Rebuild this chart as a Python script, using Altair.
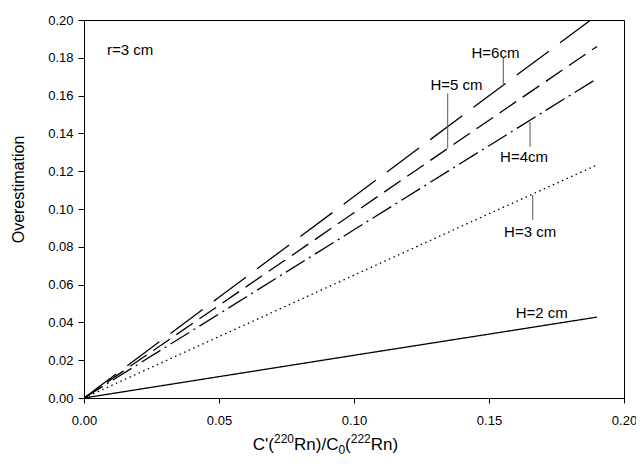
import altair as alt
import pandas as pd

# Data
x_vals = [0.0, 0.05, 0.10, 0.15, 0.19]
series_names = ["H=2 cm", "H=3 cm", "H=4cm", "H=5 cm", "H=6cm"]
h2 = [0.0, 0.0113, 0.0226, 0.0338, 0.0428]
h3 = [0.0, 0.0325, 0.0650, 0.0975, 0.1233]
h4 = [0.0, 0.0445, 0.0890, 0.1335, 0.1690]
h5 = [0.0, 0.0490, 0.0980, 0.1470, 0.1860]
h6 = [0.0, 0.0533, 0.1066, 0.1599, 0.2025]
series_values = [h2, h3, h4, h5, h6]
dash_styles = [[1, 0], [1.5, 3.5], [22, 5, 2, 5], [20, 8], [40, 14]]

# annotation texts (data coords) and leader lines
label_text = ["r=3 cm", "H=6cm", "H=5 cm", "H=4cm", "H=3 cm", "H=2 cm"]
label_x = [0.0085, 0.1435, 0.1283, 0.1541, 0.1556, 0.1599]
label_y = [0.1840, 0.1827, 0.1656, 0.1273, 0.0877, 0.0448]
leader_x = [0.1553, 0.1347, 0.1652, 0.1662]
leader_y1 = [0.1799, 0.1612, 0.1462, 0.1074]
leader_y2 = [0.1650, 0.1321, 0.1330, 0.0942]

x_ticks = [0.0, 0.05, 0.10, 0.15, 0.20]
y_ticks = [0.0, 0.02, 0.04, 0.06, 0.08, 0.10, 0.12, 0.14, 0.16, 0.18, 0.20]

# x-axis title pieces: (text, kind)  kind: main / sup / sub
title_pieces = [("C'(", "main"), ("220", "sup"), ("Rn)/C", "main"),
                ("0", "sub"), ("(", "main"), ("222", "sup"), ("Rn)", "main")]

rows = []
for name, vals in zip(series_names, series_values):
    for xv, yv in zip(x_vals, vals):
        rows.append({"x": xv, "y": yv, "series": name})
df = pd.DataFrame(rows)

lab_df = pd.DataFrame({"x": label_x, "y": label_y, "t": label_text})
lead_df = pd.DataFrame({"x": leader_x, "y": leader_y1, "y2": leader_y2})

FONT = "Liberation Sans"
W, H = 540, 378
PAD_L, PAD_T = 76, 12

xscale = alt.Scale(domain=[0, 0.2], nice=False, zero=False)
yscale = alt.Scale(domain=[0, 0.2], nice=False, zero=False)

xaxis = alt.Axis(
    values=x_ticks, format=".2f", grid=False, tickSize=5, tickColor="black",
    domainColor="black", labelFontSize=13, labelColor="black", labelFont=FONT,
    labelPadding=11, labelFlush=False, labelOverlap=False, title=None,
)
yaxis = alt.Axis(
    values=y_ticks, tickCount=11, format=".2f", grid=False, tickSize=6,
    tickColor="black", domainColor="black", labelFontSize=13,
    labelColor="black", labelFont=FONT, labelPadding=5, labelFlush=False,
    labelOverlap=False, title="Overestimation", titleFont=FONT,
    titleFontSize=16, titleFontWeight="normal", titleColor="black",
    titleX=-65.5, titleY=169, titleAlign="center", titleBaseline="middle",
)

X = alt.X("x:Q", scale=xscale, axis=xaxis)
Y = alt.Y("y:Q", scale=yscale, axis=yaxis)

lines = alt.Chart(df).mark_line(color="black", strokeWidth=1.3, clip=True).encode(
    x=X,
    y=Y,
    strokeDash=alt.StrokeDash(
        "series:N",
        scale=alt.Scale(domain=series_names, range=dash_styles),
        legend=None,
    ),
    detail="series:N",
)

labels = alt.Chart(lab_df).mark_text(
    align="left", baseline="middle", font=FONT, fontSize=15, color="black"
).encode(x=X, y=Y, text="t:N")

leaders = alt.Chart(lead_df).mark_rule(color="#555555", strokeWidth=1).encode(
    x=X, y=Y, y2="y2:Q"
)

# x-axis title with super/subscripts, laid out with Arial-metric widths
MAIN, SMALL = 17, 12
char_w = {"C": 0.722, "'": 0.191, "(": 0.333, ")": 0.333, "R": 0.722,
          "n": 0.556, "/": 0.278}
def width(txt, size):
    return sum(char_w.get(c, 0.556) for c in txt) * size

sizes = [MAIN if k == "main" else SMALL for _, k in title_pieces]
total = sum(width(t, s) for (t, _), s in zip(title_pieces, sizes))
center_x = 241.5
base = {"main": 430, "sup": 423, "sub": 434}
cur = center_x - total / 2
title_layers = []
for (txt, kind), s in zip(title_pieces, sizes):
    title_layers.append(
        alt.Chart(alt.Data(values=[{}])).mark_text(
            text=txt, align="left", baseline="alphabetic", font=FONT,
            fontSize=s, color="black",
        ).encode(x=alt.value(cur), y=alt.value(base[kind]))
    )
    cur += width(txt, s)

chart = (
    alt.layer(lines, leaders, labels, *title_layers)
    .properties(
        width=W,
        height=H,
        autosize=alt.AutoSizeParams(type="none"),
        padding={"left": PAD_L, "top": PAD_T, "right": 628 - PAD_L - W,
                 "bottom": 448 - PAD_T - H},
        background="white",
    )
    .configure_view(stroke="black", strokeWidth=1)
)

chart.save("out.html", embed_options={"renderer": "svg", "actions": False})
